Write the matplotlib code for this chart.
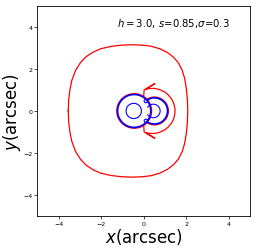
import numpy as np
import matplotlib.pyplot as plt
from matplotlib.patches import Arc

# outer caustic, upper half (x, y); lower half is its mirror
outer_x = [-3.55, -3.53, -3.47, -3.38, -3.20, -2.97, -2.70, -2.38, -2.02, -1.55, -1.05, -0.55,
           -0.05, 0.35, 0.75, 1.10, 1.40, 1.63, 1.80, 1.92, 2.00, 2.05, 2.07]
outer_y = [0.00, 0.50, 1.00, 1.45, 1.93, 2.30, 2.58, 2.79, 2.95, 3.06, 3.12, 3.14,
           3.12, 3.07, 2.95, 2.78, 2.55, 2.28, 1.95, 1.55, 1.08, 0.55, 0.00]

# critical curves (blue): centre x, centre y, radius, theta1, theta2
crit_cx = [-0.45, -0.47, 0.50, 0.45, 0.10, 0.10]
crit_cy = [0.00, 0.00, 0.00, 0.00, 0.47, -0.47]
crit_r = [0.78, 0.36, 0.62, 0.32, 0.08, 0.08]
crit_t1 = [0, 0, -125, -150, 0, 0]
crit_t2 = [360, 360, 125, 150, 360, 360]
crit_lw = [1.2, 0.8, 1.2, 0.8, 0.8, 0.8]

# caustic arcs (red)
caus_cx = [-0.45, 0.50, 0.40]
caus_cy = [0.00, 0.00, 0.00]
caus_r = [0.82, 0.66, 1.07]
caus_t1 = [0, -122, -105]
caus_t2 = [360, 122, 105]

# swallowtail cusp near the top (mirrored at the bottom)
tail_x = [0.00, 0.02, 0.52, 0.12]
tail_y = [0.72, 1.00, 1.30, 1.03]

fig = plt.figure(figsize=(2.56, 2.51), dpi=100)
ax = fig.add_axes([0.146, 0.134, 0.831, 0.840])

ox = np.array(outer_x + outer_x[::-1])
oy = np.array(outer_y + [-v for v in outer_y[::-1]])
ax.plot(ox, oy, color='red', lw=0.9)

for cx, cy, r, t1, t2 in zip(caus_cx, caus_cy, caus_r, caus_t1, caus_t2):
    ax.add_patch(Arc((cx, cy), 2 * r, 2 * r, theta1=t1, theta2=t2, color='red', lw=0.9))

ax.plot(tail_x, tail_y, color='red', lw=0.9)
ax.plot(tail_x, [-v for v in tail_y], color='red', lw=0.9)

for cx, cy, r, t1, t2, lw in zip(crit_cx, crit_cy, crit_r, crit_t1, crit_t2, crit_lw):
    ax.add_patch(Arc((cx, cy), 2 * r, 2 * r, theta1=t1, theta2=t2, color='blue', lw=lw))

ax.set_xlim(-5, 5)
ax.set_ylim(-5, 5)
ax.set_xticks([-4, -2, 0, 2, 4])
ax.set_yticks([-4, -2, 0, 2, 4])
ax.tick_params(labelsize=4.5, length=2, width=0.5, pad=1.5)
for s in ax.spines.values():
    s.set_linewidth(0.6)
ax.set_xlabel(r'$x$(arcsec)', fontsize=12, labelpad=0)
ax.set_ylabel(r'$y$(arcsec)', fontsize=12, labelpad=0)
ax.text(-1.25, 4.2, r'$h=3.0$, $s$=0.85,$\sigma$=0.3', fontsize=7.3, va='center')

fig.savefig('out.png', dpi=100)
